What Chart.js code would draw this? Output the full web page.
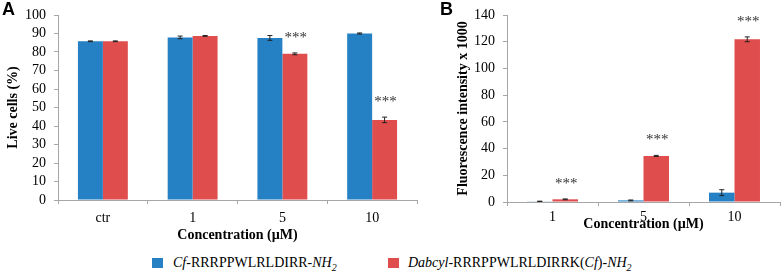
<!DOCTYPE html>
<html>
<head>
<meta charset="utf-8">
<script src="https://cdn.jsdelivr.net/npm/chart.js@4/dist/chart.umd.min.js"></script>
<style>
    html, body { margin: 0; padding: 0; background: #fff; }
    #wrap { position: relative; width: 782px; height: 274px; overflow: hidden; font-family: 'Liberation Serif', 'DejaVu Serif', serif; }
    canvas { position: absolute; top: 0; }
    .panel-tag { position: absolute; top: -1px; font: bold 18px 'Liberation Sans', Arial, sans-serif; color: #000; }
    .leg-box { position: absolute; top: 258px; width: 11px; height: 10px; }
    .leg-txt { position: absolute; top: 254px; font-size: 14px; line-height: 18px; color: #000; white-space: nowrap; }
    .leg-txt sub { font-size: 10px; line-height: 0; }
</style>
</head>
<body>
<div id="wrap">
    <canvas id="chartA" width="430" height="245" style="left:0px"></canvas>
    <canvas id="chartB" width="342" height="245" style="left:440px"></canvas>
    <div class="panel-tag" style="left:2px">A</div>
    <div class="panel-tag" style="left:440px">B</div>
    <div class="leg-box" style="left:152px; background:#2580C4"></div>
    <div class="leg-txt" style="left:173px"><i>Cf</i>-RRRPPWLRLDIRR-<i>NH<sub>2</sub></i></div>
    <div class="leg-box" style="left:388px; background:#DF4D4D"></div>
    <div class="leg-txt" style="left:408px"><i>Dabcyl</i>-RRRPPWLRLDIRRK(<i>Cf</i>)-<i>NH<sub>2</sub></i></div>
</div>
<script>
'use strict';

/* --------------------------------------------------------------------------
   DATA
   -------------------------------------------------------------------------- */
const concA = ['ctr', '1', '5', '10'];
const cfLive = [85.8, 87.9, 87.6, 90.0];
const cfLiveErr = [0.2, 0.7, 1.3, 0.3];
const dabLive = [85.8, 88.7, 79.0, 43.3];
const dabLiveErr = [0.2, 0.2, 0.5, 1.5];
const dabLiveSig = ['', '', '***', '***'];

const concB = ['1', '5', '10'];
const cfFluo = [0.5, 1.2, 7.0];
const cfFluoErr = [0.1, 0.3, 2.2];
const dabFluo = [2.0, 34.5, 121.8];
const dabFluoErr = [0.3, 0.4, 1.8];
const dabFluoSig = ['***', '***', '***'];

const yTicksA = { min: 0, max: 100, step: 10 };
const yTicksB = { min: 0, max: 140, step: 20 };

const COLORS = { blue: '#2580C4', red: '#DF4D4D', axis: '#A6A6A6', text: '#000' };
const SERIF = "'Liberation Serif', 'DejaVu Serif', serif";

/* --------------------------------------------------------------------------
   ERROR BARS + SIGNIFICANCE STARS
   Reads dataset.errors / dataset.sig and draws through the y scale.
   -------------------------------------------------------------------------- */
const errorBarPlugin = {
    id: 'errorBars',
    afterDatasetsDraw(chart) {
        const ctx = chart.ctx;
        const y = chart.scales.y;
        ctx.save();
        chart.data.datasets.forEach((ds, di) => {
            const meta = chart.getDatasetMeta(di);
            meta.data.forEach((bar, i) => {
                const v = ds.data[i];
                const e = (ds.errors || [])[i] || 0;
                const top = y.getPixelForValue(v + e);
                const bot = y.getPixelForValue(v - e);
                ctx.strokeStyle = '#222';
                ctx.lineWidth = 1;
                ctx.beginPath();
                ctx.moveTo(bar.x, top); ctx.lineTo(bar.x, bot);
                ctx.moveTo(bar.x - 2.5, top); ctx.lineTo(bar.x + 2.5, top);
                ctx.moveTo(bar.x - 2.5, bot); ctx.lineTo(bar.x + 2.5, bot);
                ctx.stroke();
                const s = (ds.sig || [])[i];
                if (s) {
                    ctx.fillStyle = '#333';
                    ctx.font = '15px ' + SERIF;
                    ctx.textAlign = 'center';
                    ctx.textBaseline = 'alphabetic';
                    ctx.fillText(s, bar.x + 1, top - 11);
                }
            });
        });
        ctx.restore();
    },
};

/* --------------------------------------------------------------------------
   SHARED BAR CHART BUILDER
   -------------------------------------------------------------------------- */
function renderBarPanel(canvasId, cfg) {
    const ctx = document.getElementById(canvasId).getContext('2d');
    return new Chart(ctx, {
        type: 'bar',
        data: {
            labels: cfg.labels,
            datasets: [
                { label: 'Cf', data: cfg.cf, errors: cfg.cfErr, backgroundColor: COLORS.blue, borderWidth: 0, categoryPercentage: cfg.catPct, barPercentage: 1 },
                { label: 'Dabcyl', data: cfg.dab, errors: cfg.dabErr, sig: cfg.sig, backgroundColor: COLORS.red, borderWidth: 0, categoryPercentage: cfg.catPct, barPercentage: 1 },
            ],
        },
        options: {
            responsive: false,
            animation: false,
            devicePixelRatio: 1,
            layout: { padding: cfg.padding },
            plugins: { legend: { display: false }, tooltip: { enabled: false } },
            scales: {
                x: {
                    grid: { display: true, drawOnChartArea: false, drawTicks: true, tickLength: 4, color: COLORS.axis, offset: true },
                    border: { color: COLORS.axis, width: 1 },
                    ticks: { color: COLORS.text, padding: cfg.xTickPad, font: { family: SERIF, size: 14, lineHeight: 1 } },
                    title: { display: true, text: 'Concentration (µM)', color: COLORS.text, padding: { top: 0, bottom: cfg.xTitlePad }, font: { family: SERIF, size: 14, weight: 'bold' } },
                    afterFit: s => { s.height = cfg.xHeight; },
                },
                y: {
                    min: cfg.yTicks.min,
                    max: cfg.yTicks.max,
                    grid: { display: true, drawOnChartArea: false, drawTicks: true, tickLength: 4, color: COLORS.axis },
                    border: { color: COLORS.axis, width: 1 },
                    ticks: { stepSize: cfg.yTicks.step, color: COLORS.text, padding: 8, font: { family: SERIF, size: 14, lineHeight: 1 } },
                    title: { display: true, text: cfg.yTitle, color: COLORS.text, padding: 0, font: { family: SERIF, size: 14, weight: 'bold' } },
                    afterFit: s => { s.width = cfg.yWidth; },
                },
            },
        },
        plugins: [errorBarPlugin],
    });
}

/* --------------------------------------------------------------------------
   PANEL A — LIVE CELLS
   -------------------------------------------------------------------------- */
renderBarPanel('chartA', {
    labels: concA, cf: cfLive, cfErr: cfLiveErr, dab: dabLive, dabErr: dabLiveErr, sig: dabLiveSig,
    yTicks: yTicksA, yTitle: 'Live cells (%)',
    padding: { left: 5, right: 13, top: 7, bottom: 0 },
    yWidth: 53, xHeight: 45, xTickPad: 7, xTitlePad: 1, catPct: 0.556,
});

/* --------------------------------------------------------------------------
   PANEL B — FLUORESCENCE
   -------------------------------------------------------------------------- */
renderBarPanel('chartB', {
    labels: concB, cf: cfFluo, cfErr: cfFluoErr, dab: dabFluo, dabErr: dabFluoErr, sig: dabFluoSig,
    yTicks: yTicksB, yTitle: 'Fluorescence intensity x 1000',
    padding: { left: 15, right: 2, top: 8, bottom: 0 },
    yWidth: 52, xHeight: 43, xTickPad: 4, xTitlePad: 12, catPct: 0.56,
});
</script>
</body>
</html>
